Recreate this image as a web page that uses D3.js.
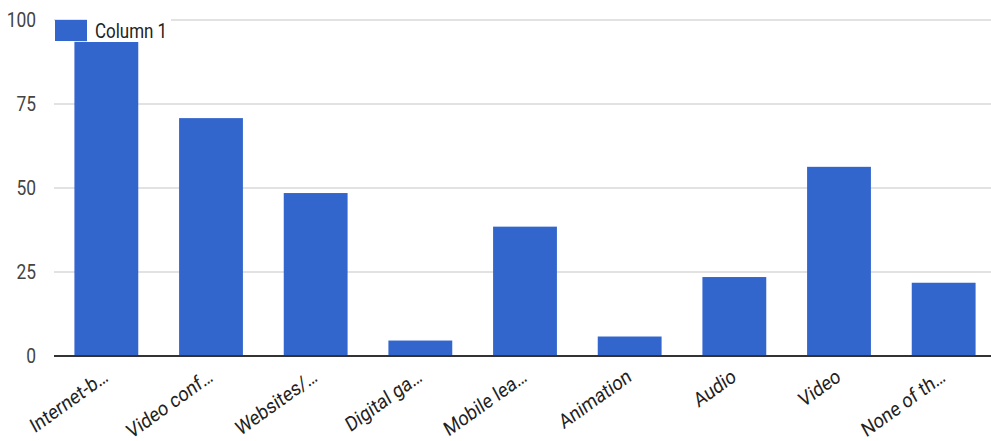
<!DOCTYPE html>
<html><head><meta charset="utf-8">
<script src="https://cdn.jsdelivr.net/npm/d3@7"></script>
<style>body{margin:0;background:#fff}svg{display:block;font-family:Roboto,Arial,sans-serif}</style>
</head><body>
<svg id="c" width="991" height="441"></svg>
<script>
const categories = ["Internet-b…","Video conf…","Websites/…","Digital ga…","Mobile lea…","Animation","Audio","Video","None of th…"];
const values = [93.5,70.8,48.5,4.6,38.5,5.8,23.5,56.3,21.8];
const yTicks = [0,25,50,75,100];
const seriesName = "Column 1";

const svg = d3.select("#c");
const x = d3.scaleBand().domain(categories).range([54,996]).paddingInner(0.39).paddingOuter(0.195);
const y = d3.scaleLinear().domain([0,100]).range([356,20]);
const left = 54, right = 991, sx = 0.87;

// gridlines
svg.append("g").selectAll("line").data(yTicks.filter(d=>d>0)).join("line")
  .attr("x1",left).attr("x2",right).attr("y1",d=>y(d)).attr("y2",d=>y(d))
  .attr("stroke","#d9d9d9").attr("stroke-width",1.5);

// y labels
svg.append("g").selectAll("text").data(yTicks).join("text")
  .attr("transform",d=>`translate(36,${y(d)+7}) scale(${sx},1)`)
  .attr("text-anchor","end").attr("font-size",20).attr("fill","#444").text(d=>d);

// bars
svg.append("g").selectAll("rect").data(values).join("rect")
  .attr("x",(d,i)=>x(categories[i])).attr("width",x.bandwidth())
  .attr("y",d=>y(d)).attr("height",d=>y(0)-y(d))
  .attr("fill","#3366cc");

// baseline
svg.append("line").attr("x1",left).attr("x2",right).attr("y1",y(0)).attr("y2",y(0))
  .attr("stroke","#333").attr("stroke-width",2);

// x labels
svg.append("g").selectAll("text").data(categories).join("text")
  .attr("transform",d=>`translate(${x(d)+x.bandwidth()/2+3},${y(0)+24}) scale(${sx},1) rotate(-32)`)
  .attr("text-anchor","end").attr("font-size",20.5).attr("fill","#222").text(d=>d);

// legend
const lg = svg.append("g");
lg.append("rect").attr("x",87).attr("y",18).attr("width",84).attr("height",24).attr("fill","#fff");
lg.append("rect").attr("x",55).attr("y",20).attr("width",32).attr("height",21).attr("fill","#3366cc");
lg.append("text").attr("transform",`translate(95,38) scale(${sx},1)`).attr("font-size",19.5).attr("fill","#222").text(seriesName);
</script>
</body></html>
